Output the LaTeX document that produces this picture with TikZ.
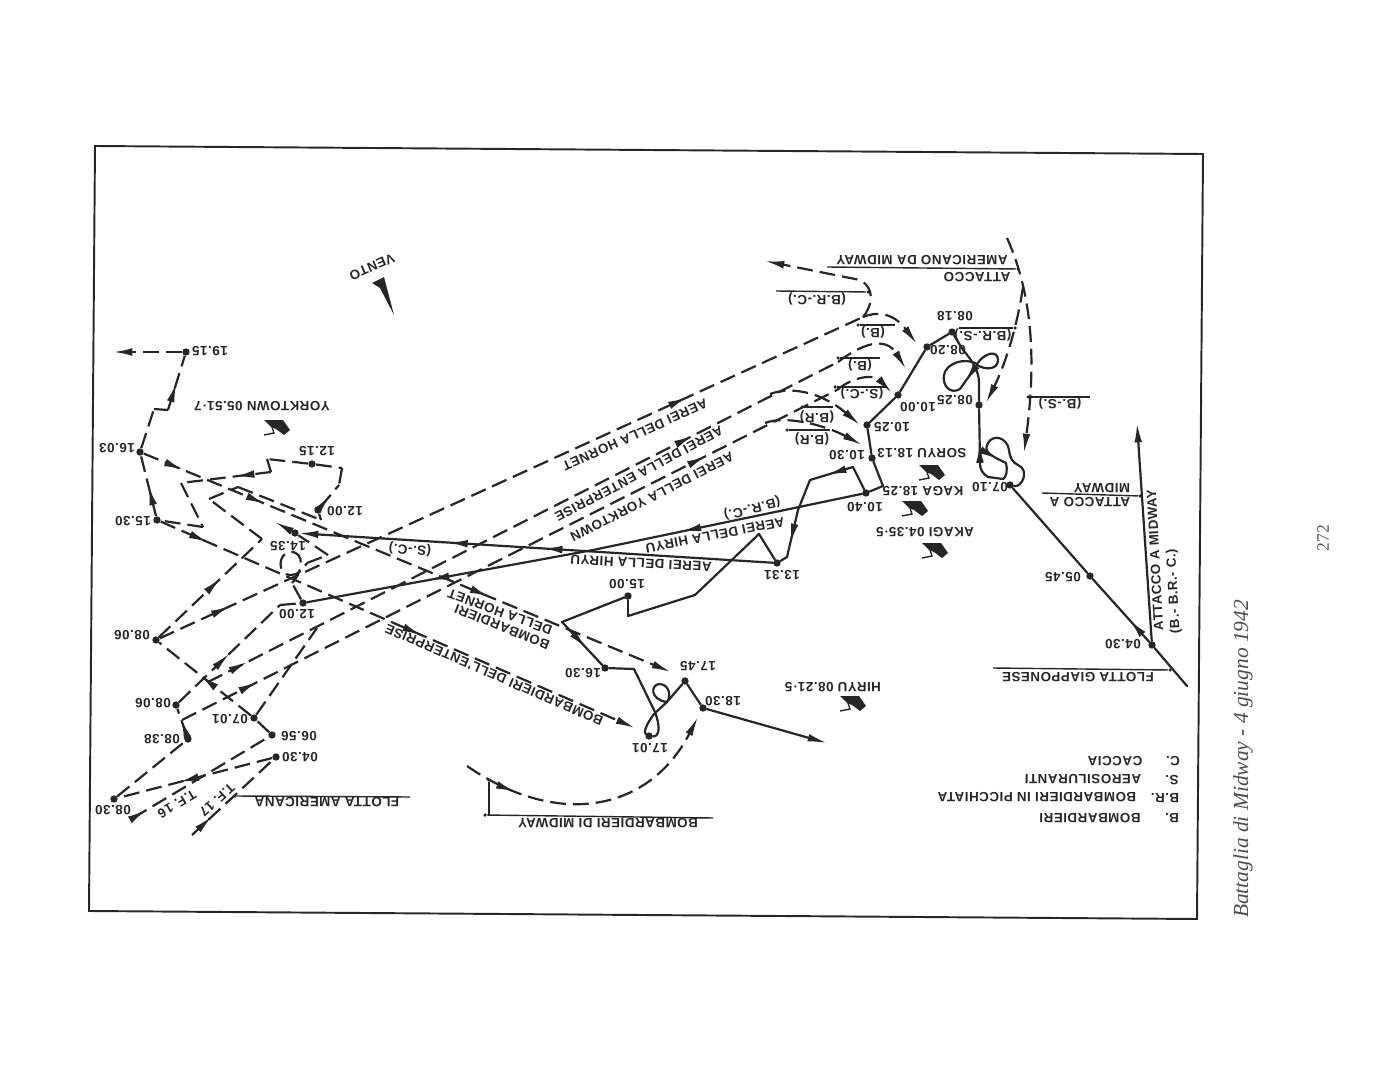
\documentclass[tikz,border=0pt]{standalone}
\usepackage{fontspec}
\setmainfont{Liberation Serif}
\newfontfamily\mapfont{Liberation Sans}[LetterSpace=4]
\usetikzlibrary{arrows.meta, decorations.markings}

\begin{document}
\begin{tikzpicture}[
    x=0.02cm, y=-0.02cm,
    ink/.style={black!85},
    flight/.style={ink, line width=1.25pt, dash pattern=on 9pt off 4pt},
    track/.style={ink, line width=1.25pt, line cap=round},
    rulea/.style={ink, line width=0.8pt},
    arrat/.style={postaction={decorate, decoration={markings, mark=at position #1 with {\arrow{Latex[length=11pt,width=4.4pt]}}}}},
    tipped/.style={-{Latex[length=11pt,width=4.4pt]}},
    fix/.style={circle, fill=black!85, inner sep=0pt, minimum size=4.2pt},
    tiny_fix/.style={circle, fill=black!85, inner sep=0pt, minimum size=2pt},
    lab/.style={font=\mapfont\bfseries\fontsize{7.6}{8}\selectfont, text=black!85, inner sep=0pt, rotate=180},
    ship/.pic={
        \fill[black!85] (-13,-7) -- (6,-7) -- (13,3) -- (7,8) -- (-1,2) -- (-6,0) -- cycle;
        \draw[black!85, line width=0.8pt] (-13,8) -- (-3,6) -- (-5,0);
    }
]

\useasboundingbox (0,0) rectangle (1390,1091);

% ==========================
% CORNICE E TESTO DI PAGINA
% ==========================
\coordinate (frame-a) at (95,146);
\coordinate (frame-b) at (1203,154);
\coordinate (frame-c) at (1197,919);
\coordinate (frame-d) at (89,911);
\draw[black!85, line width=1.1pt] (frame-a) -- (frame-b) -- (frame-c) -- (frame-d) -- cycle;

\node[rotate=90, font=\itshape\fontsize{12.2}{14}\selectfont, text=black!70] (page-title) at (1243,759) {Battaglia di Midway - 4 giugno 1942};
\node[rotate=90, font=\fontsize{10}{12}\selectfont, text=black!65] (page-num) at (1323,538) {272};

% ==========================
% ORARI (punto ed etichetta)
% ==========================
\foreach \n/\x/\y/\t/\lx/\ly in {
    t1915/186/352/19.15/210/351, t1603/140/452/16.03/117/448, t1530/157/520/15.30/133/521,
    t1215/312/464/12.15/317/451, t1200a/318/510/12.00/345/511, t1435/295/533/14.35/288/546,
    t1200b/303/603/12.00/297/614, t0806a/156/640/08.06/132/635, t0806b/176/705/08.06/153/703,
    t0838/188/739/08.38/162/739, t0701/254/718/07.01/230/719, t0656/272/735/06.56/299/736,
    t0430w/276/757/04.30/300/757, t0830/114/799/08.30/113/810, t1331/777/563/13.31/782/575,
    t1500/628/596/15.00/627/584, t1630/605/668/16.30/583/673, t1745/685/681/17.45/698/666,
    t1701/649/736/17.01/650/748, t1830/703/708/18.30/723/701, t1040/866/493/10.40/865/507,
    t1030/872/458/10.30/847/455, t1025/867/425/10.25/892/427, t1000/898/395/10.00/918/407,
    t0820/927/347/08.20/948/350, t0818/952/332/08.18/955/316, t0825/979/405/08.25/955/400,
    t0710/1010/485/07.10/990/487, t0545/1090/576/05.45/1063/577, t0430j/1152/645/04.30/1123/644
} {
    \node[fix] (\n) at (\x,\y) {};
    \node[lab] (lab-\n) at (\lx,\ly) {\t};
}

% punti di svolta e capi liberi
\foreach \n/\x/\y in {
    yend/113/352, y1/339/485, y2/342/468, y3/267/459, y4/271/472, y5/181/483, y6/203/527, y7/154/409, y8/168/410,
    z1/262/539, z2/209/499, z3/238/487, z4/321/520,
    hbend/671/672, ebend/635/728, l1/292/583, l2/307/563, l3/328/555, l4/275/522,
    tf16/133/818, tf17/192/835, mid1/280/605,
    h0/863/317, h1/860/280, h2/765/261, h3/917/344, e0/208/682, e1/838/362, e2/317/628, e3/906/369, e4/770/394, e5/860/425,
    k0/182/720, k1/837/390, k2/892/393, k3/765/423, k4/862/445,
    r1/883/486, r2/853/467, r3/810/480, r4/798/510, r5/787/557, r6/759/534, r7/695/595, r8/628/616, r9/562/622,
    r10/634/669, r11/655/712, r12/667/702, r13/593/550, r14/827/743,
    m1/467/766, m2/698/717, a1/1007/238, a2/1024/453, b1/1023/287, b2/986/403,
    jstart/1187/686, jtip/1137/423, x1/977/364, x2/1006/463, x3/977/365, x4/960/389, p1/1003/479, p2/980/462, q1/988/443
} {
    \coordinate (\n) at (\x,\y);
}

% ==========================
% ROTTE AMERICANE
% ==========================
\foreach \a/\b in {
    t1215/y2, y2/y1, t1215/y3, y3/y4, y5/y6, y6/t1530, t1603/y7, y7/y8,
    z1/z2, z2/z3, z3/z4, z4/t1200a, l3/t1435, l2/l3, t0656/t0701, t0701/e2, t1200b/l1, mid1/t1200b, t0830/t0838%
} {
    \draw[flight] (\a) -- (\b);
}
\foreach \a/\b/\p in {
    t1200a/y1/.5, y4/y5/.4, t1530/t1603/.5, y8/t1915/.5, t0806a/z1/.6, t0806b/mid1/.5,
    t0838/t0806b/.6, t0430w/t0830/.6, t0701/t0806a/.55, tf16/t0656/.1, tf17/t0430w/.25
} {
    \draw[flight, arrat=\p] (\a) -- (\b);
}
\draw[flight, tipped] (t1915) -- (yend);
\draw[flight, tipped] (t1435) -- (l4);
\draw[flight, tipped, arrat=.075, arrat=.23, arrat=.655] (t1603) -- (hbend);
\draw[flight, tipped, arrat=.1, arrat=.55] (t1530) -- (ebend);
\draw[flight] (l1) .. controls (303,572) and (305,552) .. (291,552) .. controls (278,552) and (276,575) .. (291,575) .. controls (298,575) and (302,570) .. (l2);

% aerei delle portaerei
\draw[flight, arrat=.1, arrat=.75] (t0806a) -- (h0);
\draw[flight, arrat=.77, arrat=.063] (e0) -- (e1);
\draw[flight, arrat=.115, arrat=.8] (k0) -- (k1);
\draw[flight, tipped] (h0) .. controls (873,305) and (875,288) .. (h1) -- (h2);
\draw[flight, tipped] (h0) .. controls (880,310) and (895,315) .. (h3);
\draw[flight, tipped] (e1) .. controls (860,345) and (885,335) .. (e3);
\draw[flight, tipped] (e4) .. controls (795,385) and (825,395) .. (e5);
\draw[flight, tipped] (k1) .. controls (855,375) and (875,375) .. (k2);
\draw[flight, tipped] (k3) .. controls (785,415) and (825,425) .. (k4);

% attacchi da Midway
\draw[flight, tipped, arrat=.2] (m1) .. controls (560,830) and (650,810) .. (m2);
\draw[flight, tipped] (a1) .. controls (1035,300) and (1035,370) .. (a2);
\draw[flight, tipped] (b1) .. controls (1015,340) and (1000,375) .. (b2);

% ==========================
% ROTTE GIAPPONESI
% ==========================
\foreach \a/\b in {
    jstart/t0430j, t0545/t0710, t1040/r1, r1/t1030, t1030/t1025, t1025/t1000, t1000/t0820, t0820/t0818,
    t1040/r2, r3/r4, r5/t1331, t1331/r6, r6/r7, r7/r8, r8/t1500, t1500/r9, t1630/r10, r10/r11, t1745/t1830%
} {
    \draw[track] (\a) -- (\b);
}
\foreach \a/\b/\p in {
    t0430j/t0545/.35, r2/r3/.6, r4/r5/.7, r9/t1630/.6, t1040/r13/.67, r13/t1200b/.57, p2/t0825/.35, x3/x4/.7
} {
    \draw[track, arrat=\p] (\a) -- (\b);
}
\draw[track, tipped] (t0430j) -- (jtip);
\draw[track, tipped] (t1830) -- (r14);
\draw[track, arrat=.485, arrat=.685, tipped] (t1331) -- (t1435);

% anse
\draw[track] (t0710) .. controls (1022,488) and (1030,470) .. (1018,465) .. controls (1012,462) and (1010,458) .. (1009,450) .. controls (1007,437) and (993,434) .. (q1);
\draw[track, arrat=.7] (q1) .. controls (984,451) and (987,454) .. (x2);
\draw[track] (x2) .. controls (1008,470) and (1006,478) .. (p1) -- (988,477) .. controls (982,473) and (980,470) .. (p2);
\draw[track] (t0825) -- (979,382) .. controls (979,372) and (972,360) .. (963,350) -- (t0818);
\draw[track] (x1) .. controls (985,352) and (998,350) .. (998,360) .. controls (998,370) and (985,370) .. (x3);
\draw[track] (x4) .. controls (950,395) and (942,385) .. (944,375) .. controls (946,363) and (965,357) .. (x1);
\draw[track] (r11) .. controls (660,725) and (660,737) .. (t1701);
\draw[track] (t1701) .. controls (644,733) and (645,725) .. (655,713) -- (r12) .. controls (671,697) and (670,685) .. (660,684) .. controls (650,684) and (650,700) .. (r12) -- (t1745);

% ==========================
% ETICHETTE SOTTOLINEATE
% ==========================
\foreach \n/\xa/\ya/\xb/\yb in {
    fg/993/668/1170/670, am/1042/493/1140/496, fa/410/797/235/796, bm/713/818/485/815, bt/489/815/489/780,
    ad/827/267/1018/269, brs/959/328/1015/328, bs/1090/397/1028/397, brc/776/291/868/292,
    bo/895/325/858/325, bp/880/358/838/358, sc/887/387/835/387, brb/833/407/802/407, brd/830/430/787/430
} {
    \coordinate (ua-\n) at (\xa,\ya);
    \node[tiny_fix] (ub-\n) at (\xb,\yb) {};
    \draw[rulea] (ua-\n) -- (ub-\n);
}

\foreach \n/\x/\y/\r/\t in {
    Lfg/1078/677/180/FLOTTA GIAPPONESE, Lam1/1090/502/180/ATTACCO A, Lam2/1102/488/180/MIDWAY,
    Lfa/327/802/180/FLOTTA AMERICANA, Lbm/608/823/180/BOMBARDIERI DI MIDWAY,
    Lad1/922/260/180/AMERICANO DA MIDWAY, Lad2/977/277/180/ATTACCO, Lbrs/983/335/180/(B.R.-S.),
    Lbs/1060/403/180/(B.-S.), Lbrc/817/299/180/(B.R.-C.), Lbo/873/332/180/(B.), Lbp/860/365/180/(B.),
    Lsc/862/393/180/(S.-C.), Lbrb/817/417/180/(B.R), Lbrd/812/439/180/(B.R),
    Lsoryu/922/453/180/SORYU 18.13, Lkaga/923/491/180/KAGA 18.25, Lakagi/925/532/180/AKAGI 04.35·5,
    Lhiryu/833/687/180/HIRYU 08.21·5, Lyork/262/406/180/YORKTOWN 05.51·7,
    Lc1/1173/761/180/C., Lc2/1115/761/180/CACCIA, Ls1/1172/780/180/S., Ls2/1083/779/180/AEROSILURANTI,
    Lr1/1165/798/180/B.R., Lr2/1037/797/180/BOMBARDIERI IN PICCHIATA, Lb1/1172/818/180/B., Lb2/1090/818/180/BOMBARDIERI,
    Lh1/635/435/204/AEREI DELLA HORNET, Le1/639/474/208/AEREI DELLA ENTERPRISE, Ly1/652/497/207/AEREI DELLA YORKTOWN,
    Lhy1/715/535/191/AEREI DELLA HIRYU, Lhy2/641/563/177/AEREI DELLA HIRYU, Lbrc2/752/508/194/(B.R.-C.),
    Lsc2/410/549/175/(S.-C.), Lbe/494/675/156.5/BOMBARDIERI DELL'ENTERPRISE,
    Lbh1/500/612/160/DELLA HORNET, Lbh2/502/627/158/BOMBARDIERI,
    Ltf6/177/804/211/T.F. 16, Ltf7/217/800/222/T.F. 17, Lv/372/267/204/VENTO
} {
    \node[lab, rotate=\r-180] (\n) at (\x,\y) {\t};
}
\node[lab, rotate=-87] (Lm1) at (1155,560) {ATTACCO A MIDWAY};
\node[lab, rotate=-87] (Lm2) at (1174,591) {(B.- B.R.- C.)};

% navi
\foreach \n/\x/\y in {s1/277/427, s2/932/472, s3/915/508, s4/935/550, s5/853/703} {
    \pic (\n) at (\x,\y) {ship};
}

% vento
\fill[black!85] (372,283) -- (384,277) -- (394,315) -- (380,288) -- cycle;

\end{tikzpicture}
\end{document}
